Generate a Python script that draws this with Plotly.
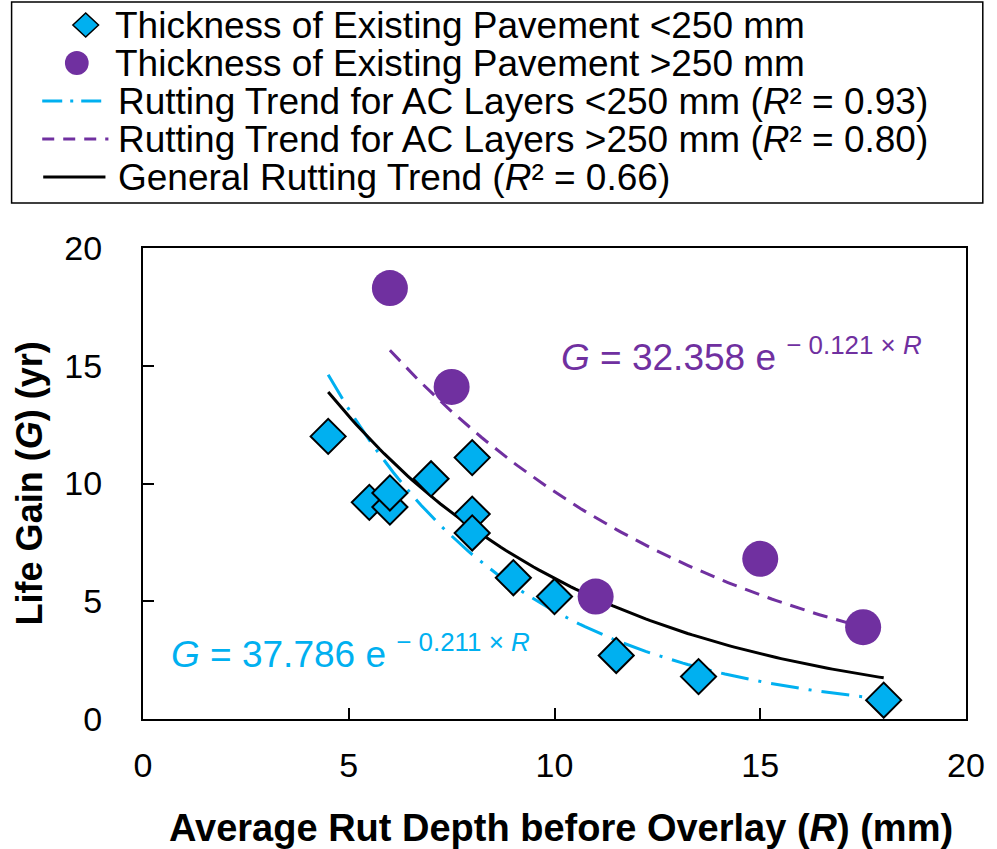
import numpy as np
import plotly.graph_objects as go

# ---------------- data ----------------
rut_thin = [4.5, 5.5, 6.0, 6.0, 7.0, 8.0, 8.0, 8.0, 9.0, 10.0, 11.5, 13.5, 18.0]
gain_thin = [12.0, 9.2, 9.0, 9.6, 10.2, 11.1, 8.7, 7.9, 6.0, 5.2, 2.7, 1.8, 0.8]

rut_thick = [6.0, 7.5, 11.0, 15.0, 17.5]
gain_thick = [18.3, 14.1, 5.2, 6.8, 3.9]

# exponential trend coefficients  G = a * exp(b * R)
trend_thin = [37.786, -0.211]
trend_thick = [32.358, -0.121]
trend_all = [27.7, -0.1535]
trend_thin_range = [4.5, 18.0]
trend_thick_range = [6.0, 17.5]
trend_all_range = [4.5, 18.0]

x_ticks = [0, 5, 10, 15, 20]
y_ticks = [0, 5, 10, 15, 20]

BLUE = "#00B0F0"
PURPLE = "#7030A0"
FONT = "Liberation Sans, Arial, sans-serif"

W, H = 997, 849
L, R, T, B = 143, 21, 248, 130
PW, PH = W - L - R, H - T - B


def px(x):
    return (x - L) / PW


def py(y):
    return (H - B - y) / PH


def curve(coef, rng):
    xs = np.linspace(rng[0], rng[1], 120)
    return xs, coef[0] * np.exp(coef[1] * xs)


fig = go.Figure()

xs, ys = curve(trend_thin, trend_thin_range)
fig.add_trace(go.Scatter(x=xs, y=ys, mode="lines",
                         line=dict(color=BLUE, width=3, dash="28px,10px,3px,10px"),
                         showlegend=False, hoverinfo="skip"))
xs, ys = curve(trend_thick, trend_thick_range)
fig.add_trace(go.Scatter(x=xs, y=ys, mode="lines",
                         line=dict(color=PURPLE, width=3, dash="15px,9px"),
                         showlegend=False, hoverinfo="skip"))
xs, ys = curve(trend_all, trend_all_range)
fig.add_trace(go.Scatter(x=xs, y=ys, mode="lines",
                         line=dict(color="black", width=3),
                         showlegend=False, hoverinfo="skip"))

fig.add_trace(go.Scatter(x=rut_thin, y=gain_thin, mode="markers",
                         marker=dict(symbol="diamond", size=27, color=BLUE,
                                     line=dict(color="black", width=2)),
                         showlegend=False))
fig.add_trace(go.Scatter(x=rut_thick, y=gain_thick, mode="markers",
                         marker=dict(symbol="circle", size=36, color=PURPLE,
                                     line=dict(width=0)),
                         showlegend=False))

shapes = []
annotations = []

# legend box
shapes.append(dict(type="rect", xref="paper", yref="paper",
                   x0=px(10), x1=px(993), y0=py(2), y1=py(203),
                   line=dict(color="black", width=1.5), fillcolor="white", layer="below"))

# legend symbols
dcx, dcy, dw, dh = 85, 25, 13, 12
shapes.append(dict(type="path", xref="paper", yref="paper",
                   path=f"M {px(dcx-dw)},{py(dcy)} L {px(dcx)},{py(dcy-dh)} L {px(dcx+dw)},{py(dcy)} L {px(dcx)},{py(dcy+dh)} Z",
                   fillcolor=BLUE, line=dict(color="black", width=1.5)))
ccx, ccy, cr = 76, 63, 12
shapes.append(dict(type="circle", xref="paper", yref="paper",
                   x0=px(ccx-cr), x1=px(ccx+cr), y0=py(ccy+cr), y1=py(ccy-cr),
                   fillcolor=PURPLE, line=dict(width=0)))
shapes.append(dict(type="line", xref="paper", yref="paper",
                   x0=px(41), x1=px(108), y0=py(101), y1=py(101),
                   line=dict(color=BLUE, width=3, dash="20px,8px,3px,8px")))
shapes.append(dict(type="line", xref="paper", yref="paper",
                   x0=px(41), x1=px(108), y0=py(139), y1=py(139),
                   line=dict(color=PURPLE, width=3, dash="12px,9px")))
shapes.append(dict(type="line", xref="paper", yref="paper",
                   x0=px(42), x1=px(105), y0=py(177), y1=py(177),
                   line=dict(color="black", width=3)))

legend_texts = [
    ("Thickness of Existing Pavement &lt;250 mm", 114, 25),
    ("Thickness of Existing Pavement &gt;250 mm", 114, 63),
    ("Rutting Trend for AC Layers &lt;250 mm (<i>R</i>\u00b2 = 0.93)", 117, 101),
    ("Rutting Trend for AC Layers &gt;250 mm (<i>R</i>\u00b2 = 0.80)", 117, 139),
    ("General Rutting Trend (<i>R</i>\u00b2 = 0.66)", 117, 177),
]
for txt, lx, ly in legend_texts:
    annotations.append(dict(text=txt, xref="paper", yref="paper", x=px(lx), y=py(ly),
                            xanchor="left", yanchor="middle", showarrow=False,
                            borderpad=0,
                            font=dict(family=FONT, size=37, color="black")))

# equations
annotations.append(dict(text="<i>G</i> = 37.786 e <sup>\u2212 0.211 \u00d7 <i>R</i></sup>",
                        xref="paper", yref="paper", x=px(169), y=py(651),
                        xanchor="left", yanchor="middle", showarrow=False,
                        font=dict(family=FONT, size=37, color=BLUE)))
annotations.append(dict(text="<i>G</i> = 32.358 e <sup>\u2212 0.121 \u00d7 <i>R</i></sup>",
                        xref="paper", yref="paper", x=px(564), y=py(354),
                        xanchor="left", yanchor="middle", showarrow=False,
                        font=dict(family=FONT, size=37, color=PURPLE)))

# axis titles
annotations.append(dict(text="<b>Average Rut Depth before Overlay (<i>R</i>) (mm)</b>",
                        xref="paper", yref="paper", x=px(566), y=py(828),
                        xanchor="center", yanchor="middle", showarrow=False,
                        font=dict(family=FONT, size=38, color="black")))
annotations.append(dict(text="<b>Life Gain (<i>G</i>) (yr)</b>",
                        xref="paper", yref="paper", x=px(28), y=py(483),
                        xanchor="center", yanchor="middle", showarrow=False, textangle=-90,
                        font=dict(family=FONT, size=36, color="black")))

fig.update_layout(
    width=W, height=H,
    margin=dict(l=L, r=R, t=T, b=B, pad=0),
    paper_bgcolor="white", plot_bgcolor="white",
    font=dict(family=FONT, color="black"),
    shapes=shapes, annotations=annotations,
    showlegend=False,
)
fig.update_xaxes(range=[0, 20], tickvals=x_ticks, ticktext=[str(v) for v in x_ticks],
                 ticks="inside", ticklen=11, tickwidth=1.5, tickcolor="black",
                 showline=True, linecolor="black", linewidth=2, mirror=True,
                 showgrid=False, zeroline=False, ticklabelstandoff=15,
                 tickfont=dict(family=FONT, size=34, color="black"))
fig.update_yaxes(range=[0, 20], tickvals=y_ticks, ticktext=[str(v) for v in y_ticks],
                 ticks="inside", ticklen=11, tickwidth=1.5, tickcolor="black",
                 showline=True, linecolor="black", linewidth=2, mirror=True,
                 showgrid=False, zeroline=False, ticklabelstandoff=32,
                 tickfont=dict(family=FONT, size=34, color="black"))

fig.write_html("out.html")
